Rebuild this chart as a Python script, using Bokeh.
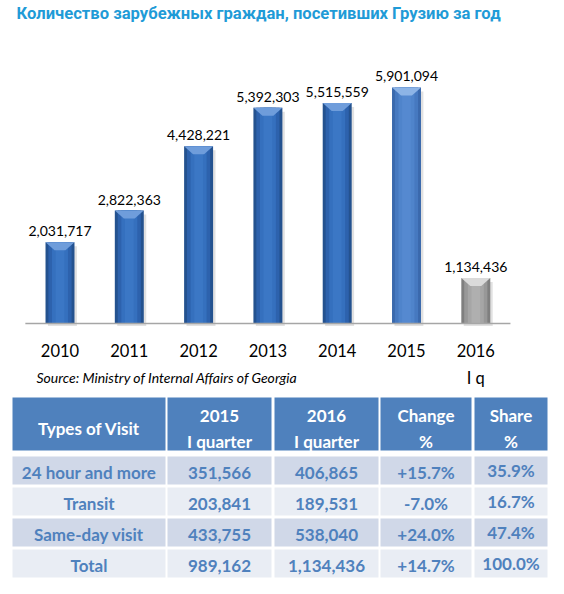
from bokeh.plotting import figure
from bokeh.layouts import column
from bokeh.models import Range1d, Label, ColumnDataSource
from bokeh.core.properties import value
from bokeh.embed import file_html
from bokeh.resources import INLINE

# ---------------- data ----------------
title_text = "Количество зарубежных граждан, посетивших Грузию за год"
source_text = "Source: Ministry of Internal Affairs of Georgia"
years = [2010, 2011, 2012, 2013, 2014, 2015, 2016]
year_labels = ["2010", "2011", "2012", "2013", "2014", "2015", "2016"]
year_sublabels = ["", "", "", "", "", "", "I q"]
visitors = [2031717, 2822363, 4428221, 5392303, 5515559, 5901094, 1134436]

visit_types = ["24 hour and more", "Transit", "Same-day visit", "Total"]
q1_2015 = [351566, 203841, 433755, 989162]
q1_2016 = [406865, 189531, 538040, 1134436]
change_pct = [15.7, -7.0, 24.0, 14.7]
share_pct = [35.9, 16.7, 47.4, 100.0]
header_line1 = ["Types of Visit", "2015", "2016", "Change", "Share"]
header_line2 = ["", "I quarter", "I quarter", "%", "%"]

# ---------------- styles ----------------
FONT = "Lato"
W1, H1 = 548, 392
BASE = 323          # pixel row of the baseline
PX_PER_M = 40.0
BAR_SPACING = 69.3
FIRST_CENTER = 59.5
BAR_W = 0.418
blue_layers = ["#24528F", "#2D62AD", "#3570BE", "#3B77C5"]
light_layers = ["#3A69AC", "#4679C0", "#4F84CB", "#5589D0"]
gray_layers = ["#7F7F7F", "#989898", "#A6A6A6", "#AFAFAF"]
layer_frac = [1.0, 0.8, 0.55, 0.3]
bevel_blue, bevel_light, bevel_gray = "#6F9DDB", "#8DB4E6", "#DADADA"

def layers_for(i):
    if i == len(years) - 1:
        return gray_layers, bevel_gray
    if i == len(years) - 2:
        return light_layers, bevel_light
    return blue_layers, bevel_blue

x0 = years[0] - FIRST_CENTER / BAR_SPACING
x1 = x0 + W1 / BAR_SPACING
y1 = BASE / PX_PER_M * 1e6
y0 = -(H1 - BASE) / PX_PER_M * 1e6

# ---------------- bar chart ----------------
p = figure(width=W1, height=H1, output_backend="svg", toolbar_location=None,
           x_range=Range1d(x0, x1), y_range=Range1d(y0, y1), min_border=0)
p.axis.visible = False
p.grid.visible = False
p.outline_line_color = None
p.background_fill_color = "white"
p.border_fill_color = "white"

# shadow
p.vbar(x=[y + 0.035 for y in years], width=BAR_W, top=[v - 0.1e6 for v in visitors],
       bottom=-0.06e6, fill_color="#D9D9D9", line_color=None, fill_alpha=0.8)

for li, frac in enumerate(layer_frac):
    cols = [layers_for(i)[0][li] for i in range(len(years))]
    src = ColumnDataSource(dict(x=years, top=visitors, c=cols))
    p.vbar(x="x", top="top", bottom=0, width=BAR_W * frac, fill_color="c",
           line_color=None, source=src)

# top bevel
inset = 0.13
depth = 0.2e6
xs, ys, bc = [], [], []
for i, (yr, v) in enumerate(zip(years, visitors)):
    xs.append([yr - BAR_W / 2, yr + BAR_W / 2, yr + BAR_W / 2 - inset, yr - BAR_W / 2 + inset])
    ys.append([v, v, v - depth, v - depth])
    bc.append(layers_for(i)[1])
p.patches(xs=xs, ys=ys, fill_color=bc, line_color=None)

# baseline
p.segment(x0=[years[0] - 0.5], x1=[years[-1] + 0.5], y0=[0], y1=[0],
          line_color="#A6A6A6", line_width=1.5)

# value labels
p.text(x=years, y=visitors, text=[f"{v:,}" for v in visitors], text_align="center",
       text_baseline="alphabetic", y_offset=-11, text_font=value(FONT),
       text_font_size="14px", text_color="#000000")

# year labels
p.text(x=years, y=[0] * len(years), text=year_labels, text_align="center",
       text_baseline="middle", y_offset=27, text_font=value(FONT),
       text_font_size="16.5px", text_color="#000000")
p.text(x=years, y=[0] * len(years), text=year_sublabels, text_align="center",
       text_baseline="middle", y_offset=54, text_font=value(FONT),
       text_font_size="16.5px", text_color="#000000")

p.add_layout(Label(x=16, y=H1 - 13, x_units="screen", y_units="screen", text=title_text,
                   text_font="Roboto", text_font_style="bold",
                   text_font_size="16.6px", text_color="#1F9BD7", text_baseline="middle"))
p.add_layout(Label(x=36, y=H1 - 377, x_units="screen", y_units="screen", text=source_text,
                   text_font=FONT, text_font_style="italic", text_font_size="14px",
                   text_color="#000000", text_baseline="middle"))

# ---------------- table ----------------
W2, H2 = 548, 186
t = figure(width=W2, height=H2, output_backend="svg", toolbar_location=None,
           x_range=Range1d(0, W2), y_range=Range1d(H2, 0), min_border=0)
t.axis.visible = False
t.grid.visible = False
t.outline_line_color = None

col_left = [12, 167, 274, 380, 474]
col_right = [165, 271, 378, 471, 547]
col_mid = [(a + b) / 2 for a, b in zip(col_left, col_right)]
head_top, head_bot = 5, 58
row_top0, row_h, row_gap = 64, 28, 3
HEAD_BG, ROW_A, ROW_B, TXT = "#4F81BD", "#D0D8E8", "#E9EDF4", "#4F81BD"
TFS = "17px"

t.quad(left=col_left, right=col_right, top=[head_top] * 5, bottom=[head_bot] * 5,
       fill_color=HEAD_BG, line_color=None)
head_mid = (head_top + head_bot) / 2
t.text(x=col_mid[:1], y=[head_mid + 4], text=header_line1[:1], text_align="center",
       text_baseline="middle", text_font=value(FONT), text_font_style="bold",
       text_font_size=TFS, text_color="white")
t.text(x=col_mid[1:], y=[head_top + 18] * 4, text=header_line1[1:], text_align="center",
       text_baseline="middle", text_font=value(FONT), text_font_style="bold",
       text_font_size=TFS, text_color="white")
t.text(x=col_mid[1:], y=[head_top + 44] * 4, text=header_line2[1:], text_align="center",
       text_baseline="middle", text_font=value(FONT), text_font_style="bold",
       text_font_size=TFS, text_color="white")

cells_l, cells_r, cells_t, cells_b, cells_c = [], [], [], [], []
tx, ty, tt = [], [], []
for r in range(len(visit_types)):
    top = row_top0 + r * (row_h + row_gap)
    bot = top + row_h
    fill = ROW_A if r % 2 == 0 else ROW_B
    vals = [visit_types[r], f"{q1_2015[r]:,}", f"{q1_2016[r]:,}",
            f"{change_pct[r]:+.1f}%", f"{share_pct[r]:.1f}%"]
    for c in range(5):
        cells_l.append(col_left[c]); cells_r.append(col_right[c])
        cells_t.append(top); cells_b.append(bot); cells_c.append(fill)
        tx.append(col_mid[c]); ty.append((top + bot) / 2 + (0 if c == 4 else 2)); tt.append(vals[c])
t.quad(left=cells_l, right=cells_r, top=cells_t, bottom=cells_b, fill_color=cells_c,
       line_color=None)
t.text(x=tx, y=ty, text=tt, text_align="center", text_baseline="middle",
       text_font=value(FONT), text_font_style="bold", text_font_size=TFS,
       text_color=TXT)

layout = column(p, t, spacing=0)
open("out.html", "w").write(file_html(layout, INLINE))
